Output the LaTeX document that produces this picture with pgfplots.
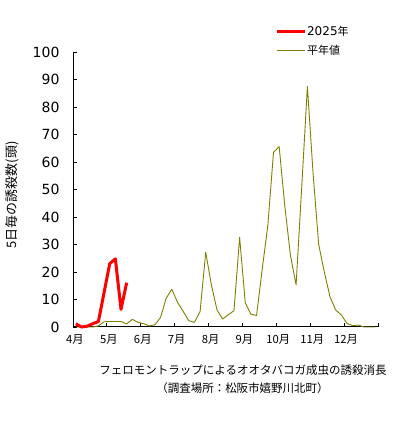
\documentclass[border=0pt]{standalone}
\usepackage{pgfplots}
\pgfplotsset{compat=1.18}
\usepackage{fontspec}
\setmainfont{Noto Sans CJK JP}
\newfontfamily\dv{DejaVu Sans}
\definecolor{oliveline}{RGB}{128,128,0}
\definecolor{redline}{RGB}{255,0,0}
\begin{document}
\begin{tikzpicture}
\useasboundingbox (0pt,0pt) rectangle (395pt,421pt);
\begin{axis}[
  at={(73pt,94pt)}, anchor=south west,
  scale only axis, width=305pt, height=275pt,
  xmin=0, xmax=54, ymin=0, ymax=100,
  axis x line*=bottom, axis y line*=left,
  xtick={0,6,...,54},
  xticklabels={4月,5月,6月,7月,8月,9月,10月,11月,12月,{}},
  ytick={0,10,...,100},
  tick align=inside, major tick length=4pt,
  tick style={black, line width=0.8pt},
  axis line style={black, line width=1pt},
  /pgf/number format/assume math mode=true,
  yticklabel style={font=\dv\fontsize{14}{16}\selectfont, xshift=-10pt},
  xticklabel style={font=\fontsize{11.3}{13}\selectfont, yshift=-4pt, xshift=2pt},
  clip=false,
  reverse legend,
  legend cell align=left,
  legend style={at={(axis description cs:0.662,1.097)}, anchor=north west,
    draw=none, fill=none, inner sep=0pt, row sep=6pt,
    font=\fontsize{11}{13}\selectfont,
    nodes={inner sep=1pt}},
  legend image code/.code={\draw[#1] (0pt,0pt) -- (28pt,0pt);},
]
\addplot[oliveline, line width=0.9pt, line join=round] coordinates {
(0.5,0) (1.5,0) (2.5,0) (3.5,0) (4.5,0.4) (5.5,1.9) (6.5,2) (7.5,2) (8.5,2) (9.5,1.1)
(10.5,2.8) (11.5,1.7) (12.5,1.2) (13.5,0.4) (14.5,0.8) (15.5,3.5) (16.5,10.5) (17.5,13.7) (18.5,9) (19.5,5.7)
(20.5,2.3) (21.5,1.7) (22.5,5.6) (23.5,27.2) (24.5,15.3) (25.5,6.2) (26.5,2.9) (27.5,4.5) (28.5,5.9) (29.5,32.6)
(30.5,8.8) (31.5,4.6) (32.5,4.2) (33.5,21) (34.5,37) (35.5,63.5) (36.5,65.6) (37.5,44) (38.5,26) (39.5,15.3)
(40.5,51) (41.5,87.5) (42.5,56) (43.5,30) (44.5,20) (45.5,11) (46.5,6.2) (47.5,4.4) (48.5,1.3) (49.5,0.5)
(50.5,0.7) (51.5,0) (52.5,0) (53.5,0)
};
\addlegendentry{平年値}
\addplot[redline, line width=3pt, line join=round] coordinates {
(0.5,1.2) (1.5,0) (2.5,0.3) (3.5,1.2) (4.5,2) (5.5,12.5) (6.5,23) (7.5,24.8) (8.5,6.4) (9.5,16.1)
};
\addlegendentry{{\dv\fontsize{12}{13}\selectfont 2025}年}
\end{axis}
\node[rotate=90, font=\fontsize{13}{15}\selectfont] at (12.5pt,226pt) {5日毎の誘殺数(頭)};
\node[font=\fontsize{11.5}{14}\selectfont] at (243pt,51pt) {フェロモントラップによるオオタバコガ成虫の誘殺消長};
\node[font=\fontsize{11.5}{14}\selectfont] at (242.5pt,33pt) {（調査場所：松阪市嬉野川北町）};
\end{tikzpicture}
\end{document}
